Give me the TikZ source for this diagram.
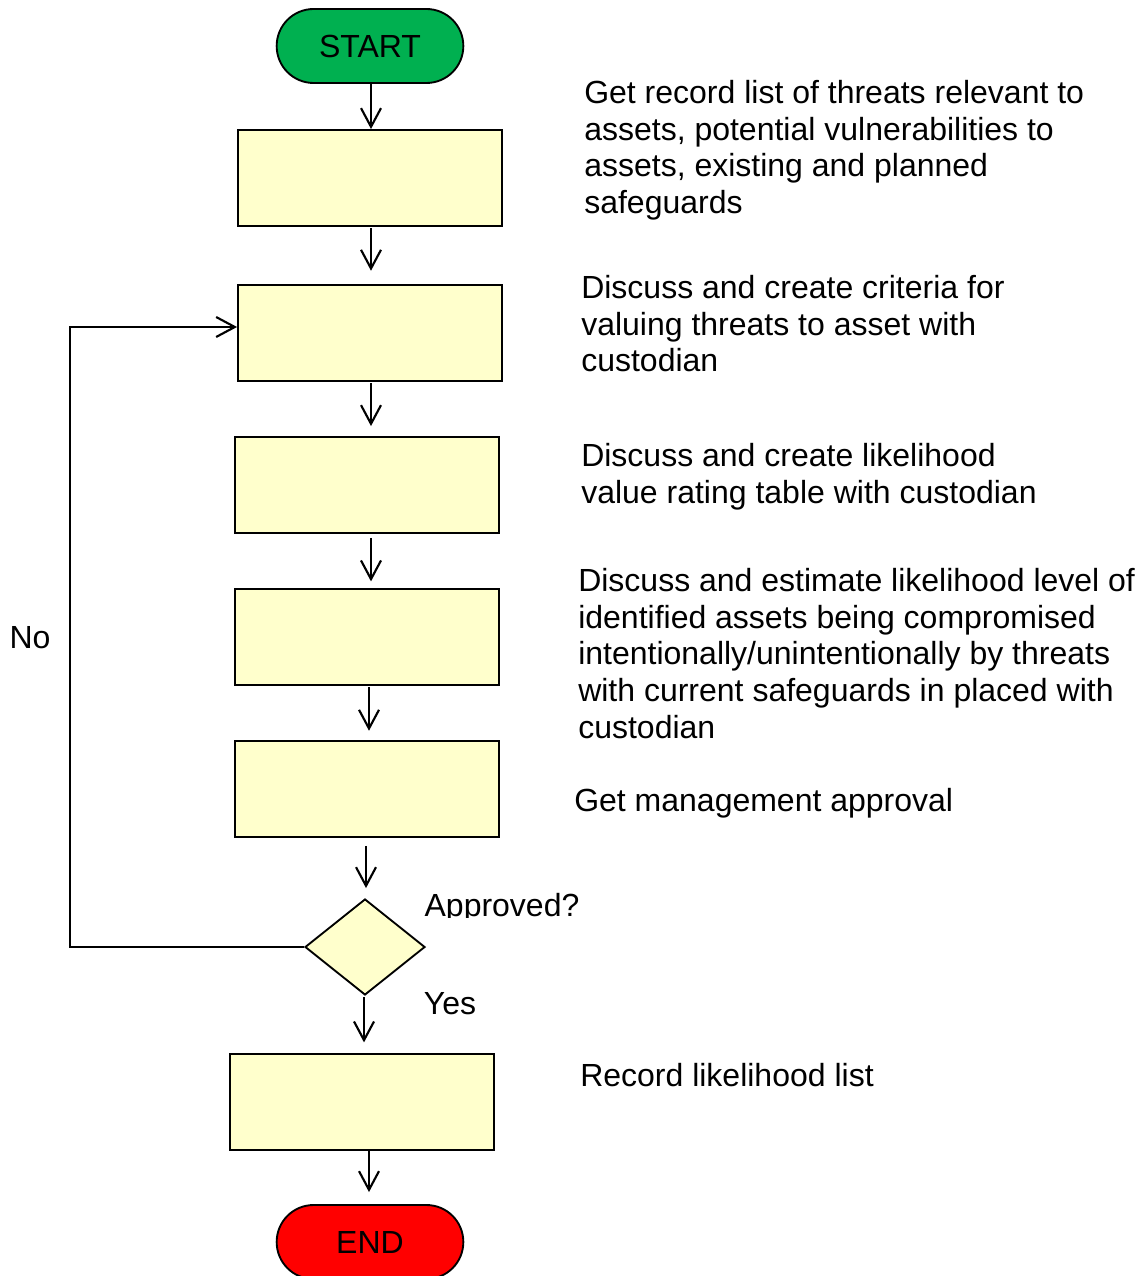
\documentclass[tikz,border=0pt]{standalone}
\usepackage{fontspec}
\setmainfont{Liberation Sans}
\usetikzlibrary{shapes.geometric,arrows.meta}
\definecolor{boxfill}{RGB}{255,255,204}
\definecolor{startgreen}{RGB}{0,176,80}
\definecolor{endred}{RGB}{255,0,0}
\begin{document}
\begin{tikzpicture}[x=0.75pt,y=-0.75pt,
  every node/.style={font=\fontsize{24pt}{27.5pt}\selectfont},
  stepbox/.style={draw,line width=1.4pt,fill=boxfill,minimum width=198pt,minimum height=72pt,inner sep=0pt},
  terminal/.style={draw,line width=1.4pt,rounded corners=27.7pt,minimum width=140pt,minimum height=55.5pt,inner sep=0pt},
  decision/.style={draw,diamond,line width=1.4pt,fill=boxfill,minimum width=90pt,minimum height=72pt,inner sep=0pt,aspect=1.25},
  flow/.style={line width=1.6pt,-{Straight Barb[length=14pt,width=15pt,line width=1.6pt]}},
  note/.style={anchor=north west,align=left,inner sep=0pt}
]
\useasboundingbox (0,0) rectangle (1145,1276);
\clip (0,0) rectangle (1145,1276);

% process column
\node[terminal,fill=startgreen] (start) at (370,46) {START};
\node[stepbox] (b1) at (370,178) {};
\node[stepbox] (b2) at (370,333) {};
\node[stepbox] (b3) at (367,485) {};
\node[stepbox] (b4) at (367,637) {};
\node[stepbox] (b5) at (367,789) {};
\node[decision] (dec) at (365,947) {};
\node[stepbox] (b6) at (362,1102) {};
\node[terminal,fill=endred] (end) at (370,1242) {END};

% connectors (shifts in pt: positive moves up the page)
\draw[flow] (start.south -| 371,0) -- (b1.north -| 371,0);
\draw[flow] ([yshift=-1pt]b1.south -| 371,0) -- ([yshift=10pt]b2.north -| 371,0);
\draw[flow] ([yshift=-1pt]b2.south -| 371,0) -- ([yshift=7.5pt]b3.north -| 371,0);
\draw[flow] ([yshift=-3pt]b3.south -| 371,0) -- ([yshift=5pt]b4.north -| 371,0);
\draw[flow] ([yshift=-1pt]b4.south -| 369,0) -- ([yshift=7pt]b5.north -| 369,0);
\draw[flow] ([yshift=-6pt]b5.south -| 366,0) -- ([yshift=7.5pt]dec.north -| 366,0);
\draw[flow] ([yshift=-1pt]dec.south -| 364,0) -- ([yshift=8pt]b6.north -| 364,0);
\draw[flow] (b6.south -| 369,0) -- ([yshift=9pt]end.north -| 369,0);

% "No" loop back to the second step
\coordinate (lt) at (70,327);
\draw[flow] (dec.west) -| (lt) -- (b2.west |- lt);

% decision labels
\node (nolab) at (30,638) {No};
\node (yeslab) at (450,1004) {Yes};
\begin{scope}
  \clip (420,880) rectangle (620,917);
  \node (qlab) at (502,908) {Approved?};
\end{scope}

% step descriptions
\node[note] (n1) at (584,80) {Get record list of threats relevant to\\assets, potential vulnerabilities to\\assets, existing and planned\\safeguards};
\node[note] (n2) at (581,275) {Discuss and create criteria for\\valuing threats to asset with\\custodian};
\node[note] (n3) at (581,443) {Discuss and create likelihood\\value rating table with custodian};
\node[note] (n4) at (578,568) {Discuss and estimate likelihood level of\\identified assets being compromised\\intentionally/unintentionally by threats\\with current safeguards in placed with\\custodian};
\node[note] (n5) at (574,788) {Get management approval};
\node[note] (n6) at (580,1063) {Record likelihood list};
\end{tikzpicture}
\end{document}
